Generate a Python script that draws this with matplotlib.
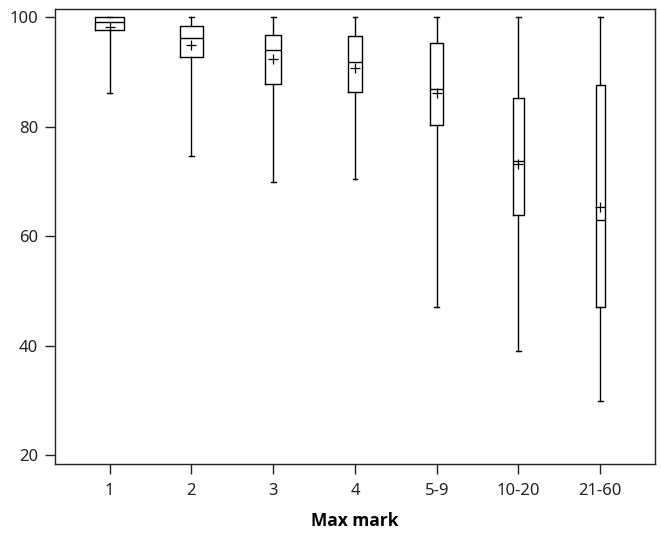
import matplotlib
matplotlib.use("Agg")
import matplotlib.pyplot as plt

plt.rcParams['font.family'] = ['Noto Sans', 'Open Sans', 'DejaVu Sans']

# box statistics
groups = ["1", "2", "3", "4", "5-9", "10-20", "21-60"]
whislo = [86.2, 74.7, 69.9, 70.5, 47.0, 39.1, 29.9]
q1 = [97.6, 92.8, 87.9, 86.4, 80.4, 63.8, 47.0]
med = [99.1, 96.2, 94.0, 91.8, 86.9, 73.8, 62.9]
q3 = [100.0, 98.5, 96.7, 96.5, 95.3, 85.2, 87.7]
whishi = [100.0, 100.0, 100.0, 100.0, 100.0, 100.0, 100.0]
means = [98.2, 94.9, 92.3, 90.8, 86.2, 73.2, 65.3]

box_widths = [0.355, 0.29, 0.20, 0.17, 0.16, 0.135, 0.115]

stats = []
for i, g in enumerate(groups):
    stats.append(dict(label=g, whislo=whislo[i], q1=q1[i], med=med[i],
                      q3=q3[i], whishi=whishi[i], mean=means[i], fliers=[]))

fig = plt.figure(figsize=(6.61, 5.37), dpi=100)
ax = fig.add_axes([0.083, 0.136, 0.908, 0.847])

lw = 1.0
ax.bxp(stats, positions=range(1, 8), widths=box_widths, capwidths=0.06,
       showmeans=True, showfliers=False,
       boxprops=dict(color='black', linewidth=lw),
       whiskerprops=dict(color='black', linewidth=lw),
       capprops=dict(color='black', linewidth=lw),
       medianprops=dict(color='black', linewidth=lw),
       meanprops=dict(marker='+', markeredgecolor='black', markersize=7,
                      markeredgewidth=0.9))

ax.set_xlim(0.33, 7.67)
ax.set_ylim(18.4, 101.5)
ax.set_yticks([20, 40, 60, 80, 100])
ax.set_xticks(range(1, 8))
ax.set_xticklabels(groups)
ax.tick_params(labelsize=12, length=7, width=1, colors='#222222', pad=5)
ax.tick_params(axis='x', pad=7)
for s in ax.spines.values():
    s.set_linewidth(1.0)
    s.set_color('#222222')
ax.set_xlabel("Max mark", fontsize=12.5, fontweight='bold', labelpad=9,
              family=['Open Sans', 'DejaVu Sans'])

fig.savefig("out.png", dpi=100)
